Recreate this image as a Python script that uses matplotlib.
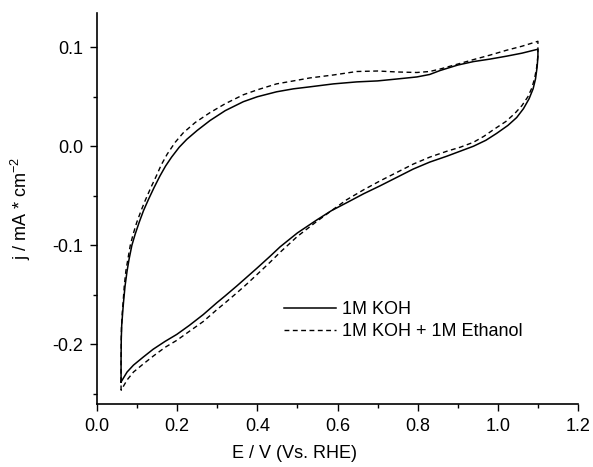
import matplotlib.pyplot as plt
from matplotlib.ticker import MultipleLocator

plt.rcParams['font.family'] = ['Liberation Sans', 'DejaVu Sans']
plt.rcParams['mathtext.fontset'] = 'custom'
plt.rcParams['mathtext.rm'] = 'Liberation Sans'

# 1M KOH (solid), one full cycle: anodic sweep then cathodic sweep
koh_E = [0.060, 0.060, 0.0605, 0.0616, 0.064, 0.066, 0.070, 0.075, 0.080, 0.087,
         0.095, 0.105, 0.116, 0.128, 0.142, 0.157, 0.171, 0.186, 0.205, 0.224,
         0.250, 0.282, 0.320, 0.365, 0.400, 0.448, 0.490, 0.531, 0.590, 0.648,
         0.700, 0.750, 0.798, 0.830, 0.856, 0.900, 0.939, 0.980, 1.022, 1.060,
         1.100,
         1.100, 1.098, 1.094, 1.088, 1.078, 1.064, 1.047, 1.025, 0.997, 0.970,
         0.939, 0.906, 0.873, 0.830, 0.789, 0.750, 0.706, 0.665, 0.623, 0.585,
         0.548, 0.500, 0.457, 0.432, 0.398, 0.370, 0.349, 0.320, 0.299, 0.265,
         0.230, 0.199, 0.170, 0.140, 0.115, 0.091, 0.075, 0.060]
koh_j = [-0.238, -0.215, -0.195, -0.181, -0.168, -0.158, -0.141, -0.126, -0.114, -0.100,
         -0.089, -0.077, -0.065, -0.054, -0.042, -0.030, -0.020, -0.011, -0.001, 0.007,
         0.016, 0.026, 0.036, 0.045, 0.050, 0.055, 0.058, 0.060, 0.063, 0.065,
         0.066, 0.068, 0.070, 0.0725, 0.0765, 0.082, 0.0855, 0.088, 0.091, 0.094,
         0.098,
         0.090, 0.080, 0.068, 0.058, 0.048, 0.038, 0.029, 0.021, 0.013, 0.006,
         0.000, -0.005, -0.010, -0.016, -0.023, -0.031, -0.040, -0.048, -0.057, -0.065,
         -0.0745, -0.0875, -0.1015, -0.111, -0.1235, -0.1335, -0.141, -0.151, -0.158, -0.170,
         -0.181, -0.190, -0.197, -0.205, -0.213, -0.221, -0.228, -0.238]

# 1M KOH + 1M Ethanol (dashed)
eth_E = [0.060, 0.060, 0.0605, 0.061, 0.063, 0.065, 0.068, 0.072, 0.077, 0.083,
         0.090, 0.099, 0.110, 0.121, 0.134, 0.148, 0.160, 0.175, 0.195, 0.215,
         0.245, 0.282, 0.320, 0.365, 0.400, 0.448, 0.490, 0.531, 0.590, 0.648,
         0.700, 0.750, 0.798, 0.830, 0.856, 0.900, 0.939, 0.980, 1.022, 1.060,
         1.100,
         1.100, 1.097, 1.092, 1.085, 1.075, 1.060, 1.042, 1.020, 0.990, 0.965,
         0.939, 0.906, 0.873, 0.830, 0.789, 0.750, 0.706, 0.665, 0.623, 0.585,
         0.548, 0.500, 0.457, 0.432, 0.398, 0.370, 0.349, 0.320, 0.299, 0.265,
         0.230, 0.199, 0.170, 0.140, 0.115, 0.091, 0.075, 0.060]
eth_j = [-0.2465, -0.220, -0.195, -0.183, -0.168, -0.158, -0.141, -0.126, -0.114, -0.100,
         -0.089, -0.077, -0.065, -0.054, -0.042, -0.030, -0.019, -0.008, 0.004, 0.0135,
         0.024, 0.034, 0.043, 0.052, 0.057, 0.063, 0.066, 0.069, 0.072, 0.0755,
         0.076, 0.075, 0.0745, 0.0755, 0.078, 0.083, 0.0875, 0.092, 0.097, 0.101,
         0.106,
         0.092, 0.080, 0.069, 0.059, 0.050, 0.041, 0.033, 0.025, 0.017, 0.010,
         0.004, -0.001, -0.005, -0.011, -0.018, -0.026, -0.035, -0.044, -0.054, -0.065,
         -0.076, -0.091, -0.107, -0.117, -0.130, -0.1405, -0.148, -0.158, -0.165, -0.177,
         -0.187, -0.196, -0.203, -0.212, -0.220, -0.228, -0.236, -0.2465]

fig = plt.figure(figsize=(5.93, 4.67), dpi=100)
ax = fig.add_axes([0.1636, 0.1355, 0.8111, 0.8365])

ax.plot(koh_E, koh_j, color='black', linewidth=1.1, label='1M KOH')
ax.plot(eth_E, eth_j, color='black', linewidth=1.0, linestyle=(0, (3.5, 2.5)),
        label='1M KOH + 1M Ethanol')

ax.set_xlim(0.0, 1.2)
ax.set_ylim(-0.26, 0.1345)
ax.xaxis.set_major_locator(MultipleLocator(0.2))
ax.xaxis.set_minor_locator(MultipleLocator(0.1))
ax.yaxis.set_major_locator(MultipleLocator(0.1))
ax.yaxis.set_minor_locator(MultipleLocator(0.05))
ax.xaxis.set_major_formatter(lambda v, p: f'{v:.1f}')
ax.yaxis.set_major_formatter(lambda v, p: f'{v:.1f}')

ax.spines['top'].set_visible(False)
ax.spines['right'].set_visible(False)
ax.spines['left'].set_linewidth(1.2)
ax.spines['bottom'].set_linewidth(1.2)
ax.tick_params(which='major', direction='out', length=5, width=1.0, labelsize=13, pad=5)
ax.tick_params(which='minor', direction='out', length=3, width=1.0)

ax.set_xlabel('E / V (Vs. RHE)', fontsize=13)
ax.set_ylabel('j / mA * cm$^{\\mathregular{-2}}$', fontsize=13)
ax.xaxis.set_label_coords(0.41, -0.105)
ax.yaxis.set_label_coords(-0.133, 0.5)

ax.legend(loc='upper left', bbox_to_anchor=(0.355, 0.305), frameon=False,
          fontsize=13, handlelength=2.9, handletextpad=0.3, labelspacing=0.3)

plt.savefig('out.png', dpi=100)
